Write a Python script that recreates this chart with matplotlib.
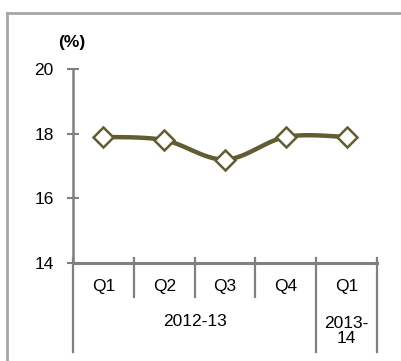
import numpy as np
import matplotlib
matplotlib.use("Agg")
import matplotlib.pyplot as plt
from matplotlib.lines import Line2D
import matplotlib.transforms as mtransforms

plt.rcParams['font.family'] = ['Liberation Sans', 'DejaVu Sans']

quarters = ["Q1", "Q2", "Q3", "Q4", "Q1"]
years = ["2012-13", "2013-\n14"]
year_span = [4, 1]
values = [17.9, 17.8, 17.2, 17.9, 17.9]
yticks = [14, 16, 18, 20]

line_col = "#615c32"
axis_col = "#808080"
W, H = 401, 361


def smooth(x, y, n=30):
    # Catmull-Rom spline through the points, like a spreadsheet "smoothed line"
    x = np.asarray(x, float)
    y = np.asarray(y, float)
    px = np.concatenate([[x[0]], x, [x[-1]]])
    py = np.concatenate([[y[0]], y, [y[-1]]])
    xs, ys = [], []
    t = np.linspace(0, 1, n)
    for i in range(1, len(px) - 2):
        p0, p1, p2, p3 = px[i - 1], px[i], px[i + 1], px[i + 2]
        q0, q1, q2, q3 = py[i - 1], py[i], py[i + 1], py[i + 2]
        c1x, c1y = p1 + (p2 - p0) / 6, q1 + (q2 - q0) / 6
        c2x, c2y = p2 - (p3 - p1) / 6, q2 - (q3 - q1) / 6
        b = [(1 - t) ** 3, 3 * (1 - t) ** 2 * t, 3 * (1 - t) * t ** 2, t ** 3]
        xs.append(b[0] * p1 + b[1] * c1x + b[2] * c2x + b[3] * p2)
        ys.append(b[0] * q1 + b[1] * c1y + b[2] * c2y + b[3] * q2)
    return np.concatenate(xs), np.concatenate(ys)


fig = plt.figure(figsize=(W / 100, H / 100), dpi=100)
ax = fig.add_axes([73 / W, (H - 263) / H, (377 - 73) / W, (263 - 69) / H])

x = np.arange(len(values))
sx, sy = smooth(x, values)
ax.plot(sx, sy, color=line_col, lw=3.2, solid_capstyle="round", zorder=3)
ax.plot(x, values, ls="none", marker="D", ms=10, mfc="white", mec=line_col,
        mew=1.8, zorder=4)

ax.set_xlim(-0.5, len(values) - 0.5)
ax.set_ylim(14, 20)
ax.set_yticks(yticks)
ax.tick_params(axis="y", direction="inout", length=8, width=1.5, color=axis_col,
               labelsize=12.5, pad=10)
ax.set_xticks([])
for s in ["top", "right", "bottom"]:
    ax.spines[s].set_visible(False)
ax.spines["left"].set_color(axis_col)
ax.spines["left"].set_linewidth(1.8)
ax.axhline(14, color=axis_col, lw=2.2, clip_on=False, zorder=2)

# category axis: quarter dividers and year groups
trans = mtransforms.blended_transform_factory(ax.transData, ax.transAxes)
hpx = 263 - 69
bounds = [-0.5]
for span in year_span:
    bounds.append(bounds[-1] + span)
for b in np.arange(-0.5, len(values)):
    low = -89 / hpx if b in bounds else -34 / hpx
    ax.plot([b, b], [5 / hpx, low], color=axis_col, lw=1.6, transform=trans,
            clip_on=False)
for i, q in enumerate(quarters):
    ax.text(i, -24 / hpx, q, transform=trans, ha="center", va="center",
            fontsize=12.5)
for j, yr in enumerate(years):
    mid = (bounds[j] + bounds[j + 1]) / 2
    ypos = -59 / hpx if "\n" not in yr else -68 / hpx
    ax.text(mid, ypos, yr, transform=trans, ha="center", va="center",
            fontsize=12.5, linespacing=1.0)

fig.text(72 / W, 1 - 43 / H, "(%)", ha="center", va="center", fontsize=12.5,
         fontweight="bold")

# outer frame
fig.add_artist(Line2D([7 / W, 1], [1 - 13 / H, 1 - 13 / H], color="#a6a6a6",
                      lw=2, transform=fig.transFigure))
fig.add_artist(Line2D([7 / W, 7 / W], [0, 1 - 13 / H], color="#a6a6a6",
                      lw=2, transform=fig.transFigure))

fig.savefig("out.png", dpi=100)
